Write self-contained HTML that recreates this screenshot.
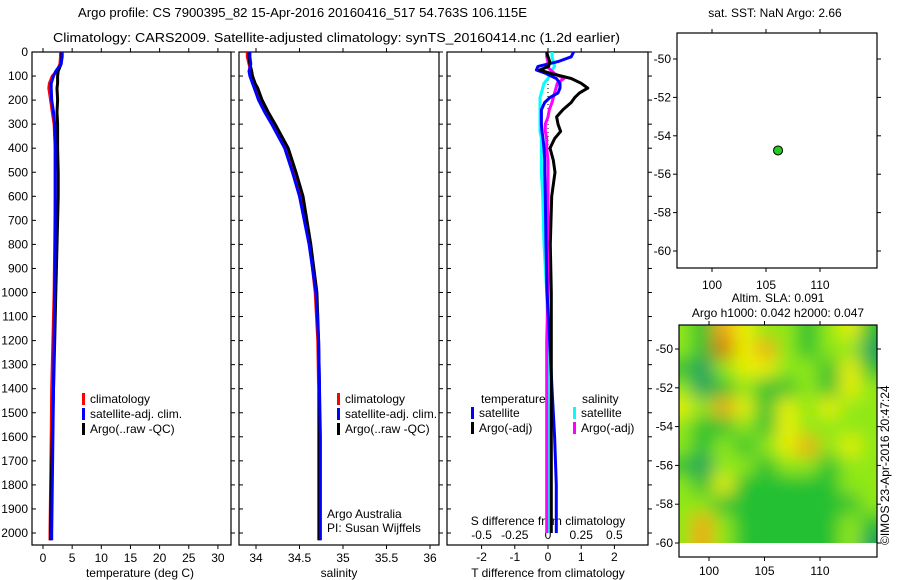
<!DOCTYPE html>
<html><head><meta charset="utf-8">
<style>
html,body{margin:0;padding:0;background:#fff;}
svg{display:block;font-family:"Liberation Sans",Arial,sans-serif;font-size:12px;}
</style></head>
<body>
<svg id="chart" width="900" height="580" viewBox="0 0 900 580">
<defs><filter id="blur" x="0" y="0" width="1" height="1"><feGaussianBlur stdDeviation="9"/></filter>
<clipPath id="mapclip"><rect x="679" y="325" width="198" height="218"/></clipPath></defs>
<text x="78" y="17" font-size="13" textLength="449" lengthAdjust="spacingAndGlyphs">Argo profile: CS 7900395_82 15-Apr-2016 20160416_517 54.763S 106.115E</text>
<text x="53" y="42" font-size="13" textLength="567" lengthAdjust="spacingAndGlyphs">Climatology: CARS2009. Satellite-adjusted climatology: synTS_20160414.nc (1.2d earlier)</text>
<text x="775" y="17" text-anchor="middle">sat. SST: NaN Argo: 2.66</text>
<text x="778" y="302" text-anchor="middle">Altim. SLA: 0.091</text>
<text x="778" y="317" text-anchor="middle">Argo h1000: 0.042 h2000: 0.047</text>
<text transform="translate(889,545) rotate(-90)">©IMOS 23-Apr-2016 20:47:24</text>
<g id="g"></g>
</svg>
<script>
// ---- data ----
const depthTicks=[0,100,200,300,400,500,600,700,800,900,1000,1100,1200,1300,1400,1500,1600,1700,1800,1900,2000];
const tempTicks=[0,5,10,15,20,25,30];
const salTicks=[34,34.5,35,35.5,36];
const tdiffTicks=[-2,-1,0,1,2];
const sdiffTicks=[-0.5,-0.25,0,0.25,0.5];
const sdiffLabels=["-0.5","-0.25","0","0.25","0.5"];
const profDepth=[0,20,50,80,100,130,150,200,250,300,400,500,600,800,1000,1200,1400,1600,1800,2000,2030];
const tempClim=[3.0,3.0,2.9,2.4,1.6,1.1,1.0,1.3,1.6,1.9,2.1,2.1,2.1,2.0,1.9,1.7,1.5,1.4,1.3,1.2,1.2];
const tempSat=[3.3,3.3,3.1,2.2,1.8,1.4,1.4,1.5,1.8,2.0,2.1,2.1,2.1,2.1,2.0,1.9,1.8,1.7,1.6,1.5,1.5];
const tempArgo=[3.2,3.2,3.1,2.6,2.5,2.5,2.4,2.5,2.4,2.5,2.5,2.6,2.6,2.4,2.2,2.0,1.8,1.6,1.4,1.3,1.3];
const salClim=[33.9,33.9,33.92,33.94,33.95,33.98,34.0,34.05,34.12,34.2,34.35,34.44,34.52,34.62,34.68,34.71,34.72,34.72,34.72,34.72,34.72];
const salSat=[33.93,33.93,33.94,33.92,33.93,33.96,33.98,34.03,34.1,34.18,34.33,34.42,34.5,34.61,34.69,34.72,34.73,34.74,34.74,34.74,34.74];
const salArgo=[33.92,33.92,33.93,33.95,33.96,33.99,34.02,34.07,34.14,34.22,34.37,34.46,34.54,34.63,34.7,34.72,34.73,34.73,34.73,34.73,34.73];
const diffDepth=[0,20,40,60,75,90,110,130,150,170,190,210,240,270,300,330,360,400,450,500,600,800,1000,1200,1400,1600,1800,2000];
const tdiffArgo=[-0.04,0.0,0.05,0.02,-0.25,0.1,0.7,1.0,1.2,0.95,0.8,0.7,0.45,0.26,0.3,0.38,0.2,0.06,0.16,0.21,0.11,0.07,0.1,0.1,0.1,0.1,0.1,0.1];
const tdiffSat=[0.77,0.7,0.3,-0.3,-0.35,-0.05,0.25,0.36,0.36,0.3,0.05,-0.1,-0.2,-0.2,-0.2,-0.18,-0.15,-0.12,-0.1,-0.1,-0.08,-0.06,-0.03,0.05,0.12,0.2,0.25,0.25];
const sdiffArgo=[-0.01,-0.01,0.0,-0.01,0.02,0.05,0.12,0.07,0.06,0.05,0.04,0.03,0.01,0.0,-0.02,-0.02,-0.01,-0.01,0.0,0.0,0.0,0.0,0.0,-0.01,-0.01,-0.01,-0.01,-0.01];
const sdiffSat=[0.03,0.03,0.04,0.05,0.03,0.02,0.0,-0.03,-0.04,-0.05,-0.06,-0.06,-0.06,-0.06,-0.06,-0.06,-0.05,-0.05,-0.05,-0.05,-0.04,-0.03,-0.01,0.0,0.0,0.01,0.01,0.01];
const lonTicks=[100,105,110];
const latTicks=[-50,-52,-54,-56,-58,-60];
const argoLon=[106.115];
const argoLat=[-54.763];
const mapLons=[97.5,99.4,101.3,103.2,105.1,107.0,108.9,110.8,112.7,114.6];
const mapLats=[-49,-50,-51,-52,-53,-54,-55,-56,-57,-58,-59,-60];
const slaGrid=[
[2,1,4,3,2,2,1,2,3,1],[2,1,5,3,4,2,1,2,2,0],[1,0,2,3,3,2,2,1,3,1],[2,0,1,2,1,1,2,1,3,2],
[3,2,4,3,1,3,2,3,2,2],[2,1,1,2,1,3,2,2,2,2],[2,1,2,1,2,3,4,2,3,2],[1,0,2,2,1,2,2,1,2,2],
[2,1,3,1,1,1,1,1,2,2],[2,2,1,1,1,1,1,1,1,2],[2,4,2,1,1,1,1,1,2,1],[2,4,2,1,1,1,1,1,2,0]];
const slaColors=["#1aa060","#22c030","#90e818","#e8f000","#f0a818","#d07010"];

// ---- helpers ----
const NS="http://www.w3.org/2000/svg";const G=document.getElementById('g');
function el(t,a,p){const e=document.createElementNS(NS,t);for(const k in a)e.setAttribute(k,a[k]);(p||G).appendChild(e);return e;}
function txt(x,y,s,anchor){const e=el('text',{x:x,y:y,'text-anchor':anchor||'start'});e.textContent=s;return e;}
const TOP=52,BOT=545;
const yD=d=>52+d*0.2405;
const xT=v=>43+v*5.83;
const xS=v=>256+(v-34)*87;
const xTd=v=>548+v*33.2;
const xSd=v=>548+v*132.8;
function frame(x0,x1,name){const r=el('rect',{x:x0,y:TOP,width:x1-x0,height:BOT-TOP,fill:'none',stroke:'#000','stroke-width':1.2});

depthTicks.forEach(d=>{el('line',{x1:x0,x2:x0+4,y1:yD(d),y2:yD(d),stroke:'#000'});el('line',{x1:x1,x2:x1+4,y1:yD(d),y2:yD(d),stroke:'#000'});});}
function line(xs,ds,fx,color,w,name,dash){const p=xs.map((v,i)=>fx(v).toFixed(1)+','+yD(ds[i]).toFixed(1)).join(' ');
const e=el('polyline',{points:p,fill:'none',stroke:color,'stroke-width':w||3,'stroke-linejoin':'round'});if(dash)e.setAttribute('stroke-dasharray',dash);
}
function xaxis(ticks,fx,y,labels,name){ticks.forEach((t,i)=>{el('line',{x1:fx(t),x2:fx(t),y1:BOT,y2:BOT+4,stroke:'#000'});el('line',{x1:fx(t),x2:fx(t),y1:TOP,y2:TOP-4,stroke:'#000'});
const e=txt(fx(t),y,labels?labels[i]:String(t),'middle');});}
function legend(x,y,items){items.forEach((it,i)=>{el('rect',{x:x,y:y+i*15-10,width:3,height:12,fill:it[0]});const e=txt(x+8,y+i*15,it[1]);
});}

// panel 1: temperature
frame(32,231,'temperature-panel');
depthTicks.forEach(d=>{const e=txt(28,yD(d)+4,String(d),'end');});
xaxis(tempTicks,xT,562,null,'temperature');
const t1=txt(140,577,'temperature (deg C)','middle');
line(tempClim,profDepth,xT,'#f00',3,'temp-climatology-line');
line(tempArgo,profDepth,xT,'#000',3,'temp-argo-line');
line(tempSat,profDepth,xT,'#00f',3,'temp-satellite-line');
legend(82,403,[['#f00','climatology'],['#00f','satellite-adj. clim.'],['#000','Argo(..raw -QC)']]);

// panel 2: salinity
frame(239,439,'salinity-panel');
xaxis(salTicks,xS,562,null,'salinity');
const t2=txt(339,577,'salinity','middle');
line(salClim,profDepth,xS,'#f00',3,'sal-climatology-line');
line(salArgo,profDepth,xS,'#000',3,'sal-argo-line');
line(salSat,profDepth,xS,'#00f',3,'sal-satellite-line');
legend(337,403,[['#f00','climatology'],['#00f','satellite-adj. clim.'],['#000','Argo(..raw -QC)']]);
const a1=txt(327,518,'Argo Australia');
const a2=txt(327,532,'PI: Susan Wijffels');

// panel 3: differences
frame(447,648,'difference-panel');
xaxis(tdiffTicks,xTd,561,null,'tdiff');
sdiffTicks.forEach((t,i)=>{const e=txt(xSd(t),539,sdiffLabels[i],'middle');});
const t3=txt(548,525,'S difference from climatology','middle');
const t4=txt(548,577,'T difference from climatology','middle');
el('line',{x1:xTd(0),x2:xTd(0),y1:yD(0),y2:yD(650),stroke:'#000','stroke-dasharray':'1,3'});
line(sdiffSat,diffDepth,xSd,'#0ff',3,'sdiff-satellite-line');
line(sdiffArgo,diffDepth,xSd,'#f0f',3,'sdiff-argo-line');
line(tdiffSat,diffDepth,xTd,'#00f',3,'tdiff-satellite-line');
line(tdiffArgo,diffDepth,xTd,'#000',3,'tdiff-argo-line');
const l1=txt(481,403,'temperature');
const l2=txt(582,403,'salinity');
legend(471,417,[['#00f','satellite'],['#000','Argo(-adj)']]);
legend(573,417,[['#0ff','satellite'],['#f0f','Argo(-adj)']]);

// location panel
const xL1=v=>712+(v-100)*10.8, yL1=v=>59+(-50-v)*19.2;
const r1=el('rect',{x:677,y:33,width:200,height:235,fill:'none',stroke:'#000','stroke-width':1.2});

lonTicks.forEach(t=>{el('line',{x1:xL1(t),x2:xL1(t),y1:268,y2:272,stroke:'#000'});el('line',{x1:xL1(t),x2:xL1(t),y1:33,y2:29,stroke:'#000'});
const e=txt(xL1(t),289,String(t),'middle');});
latTicks.forEach(t=>{el('line',{x1:673,x2:677,y1:yL1(t),y2:yL1(t),stroke:'#000'});el('line',{x1:877,x2:881,y1:yL1(t),y2:yL1(t),stroke:'#000'});
const e=txt(671,yL1(t)+4,String(t),'end');});
argoLon.forEach((v,i)=>{const c=el('circle',{cx:xL1(v),cy:yL1(argoLat[i]),r:4.5,fill:'#2c2',stroke:'#000','stroke-width':1});
});

// SLA map
const xL2=v=>709+(v-100)*11.1, yL2=v=>349+(-50-v)*19.4;
const mg=el('g',{'clip-path':'url(#mapclip)'});const bg=el('g',{filter:'url(#blur)'},mg);
el('rect',{x:660,y:310,width:240,height:250,fill:'#22c030'},bg);
const cw=xL2(mapLons[1])-xL2(mapLons[0]),ch=yL2(mapLats[1])-yL2(mapLats[0]);
slaGrid.forEach((row,j)=>row.forEach((v,i)=>{const r=el('rect',{x:xL2(mapLons[i])-cw/2-(i==0?20:0),y:yL2(mapLats[j])-ch/2-(j==0?20:0),width:cw+1+(i==0||i==row.length-1?20:0),height:ch+1+(j==0||j==slaGrid.length-1?20:0),fill:slaColors[v]},bg);
}));
const r2=el('rect',{x:679,y:325,width:198,height:232,fill:'none',stroke:'#000','stroke-width':1.2});

lonTicks.forEach(t=>{el('line',{x1:xL2(t),x2:xL2(t),y1:557,y2:561,stroke:'#000'});el('line',{x1:xL2(t),x2:xL2(t),y1:325,y2:321,stroke:'#000'});
const e=txt(xL2(t),575,String(t),'middle');});
latTicks.forEach(t=>{el('line',{x1:675,x2:679,y1:yL2(t),y2:yL2(t),stroke:'#000'});el('line',{x1:877,x2:881,y1:yL2(t),y2:yL2(t),stroke:'#000'});
const e=txt(673,yL2(t)+4,String(t),'end');});
</script>
</body></html>
